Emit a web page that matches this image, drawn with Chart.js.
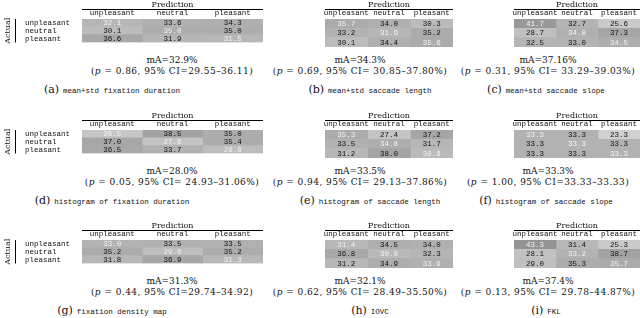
<!DOCTYPE html>
<html>
<head>
<meta charset="utf-8">
<script src="https://cdn.jsdelivr.net/npm/chart.js@4.4.1/dist/chart.umd.min.js"></script>
<style>
  body { margin: 0; background: #fff; }
  #page { position: relative; width: 640px; height: 318px; overflow: hidden; }
  canvas { position: absolute; }
  .ma, .ci { position: absolute; font-family: "DejaVu Serif"; font-size: 9px; color: #111; white-space: nowrap; transform: translate(-50%, -50%); }
  .ci { letter-spacing: 0.45px; }
  .cap { position: absolute; white-space: nowrap; transform: translate(-50%, -50%); color: #111; }
  .cap b { font-family: "DejaVu Serif"; font-weight: normal; font-size: 11px; }
  .cap span { font-family: "Liberation Mono"; font-size: 7.5px; }
</style>
</head>
<body>
<div id="page"></div>
<script>
const classes = ['unpleasant', 'neutral', 'pleasant'];

// confusion matrices, rows = actual, columns = prediction (%)
const fixDurMeanStd = [[32.1, 33.6, 34.3], [30.1, 35.0, 35.0], [36.6, 31.9, 31.5]];
const sacLenMeanStd = [[35.7, 34.0, 30.3], [33.2, 31.6, 35.2], [30.1, 34.4, 35.6]];
const sacSlopeMeanStd = [[41.7, 32.7, 25.6], [28.7, 34.0, 37.3], [32.5, 33.0, 34.5]];
const fixDurHist = [[26.5, 38.5, 35.0], [37.0, 27.6, 35.4], [36.5, 33.7, 29.8]];
const sacLenHist = [[35.3, 27.4, 37.2], [33.5, 34.8, 31.7], [31.2, 38.0, 30.8]];
const sacSlopeHist = [[33.3, 33.3, 23.3], [33.3, 33.3, 33.3], [33.3, 33.3, 33.3]];
const fixDensity = [[33.0, 33.5, 33.5], [35.2, 29.6, 35.2], [31.8, 36.9, 31.3]];
const iovc = [[31.4, 34.5, 34.0], [36.8, 30.9, 32.3], [31.2, 34.9, 33.9]];
const fkl = [[43.3, 31.4, 25.3], [28.1, 33.2, 38.7], [29.0, 35.3, 35.7]];

const matrices = [fixDurMeanStd, sacLenMeanStd, sacSlopeMeanStd, fixDurHist, sacLenHist, sacSlopeHist, fixDensity, iovc, fkl];
const letters = ['a', 'b', 'c', 'd', 'e', 'f', 'g', 'h', 'i'];
const captions = ['mean+std fixation duration', 'mean+std saccade length', 'mean+std saccade slope',
  'histogram of fixation duration', 'histogram of saccade length', 'histogram of saccade slope',
  'fixation density map', 'IOVC', 'FKL'];
const meanAcc = ['32.9', '34.3', '37.16', '28.0', '33.5', '33.3', '31.3', '32.1', '37.4'];
const pValues = ['0.86', '0.69', '0.31', '0.05', '0.94', '1.00', '0.44', '0.62', '0.13'];
const ciLow = ['29.55', '30.85', '33.29', '24.93', '29.13', '33.33', '29.74', '28.49', '29.78'];
const ciHigh = ['36.11', '37.80', '39.03', '31.06', '37.86', '33.33', '34.92', '35.50', '44.87'];
const ciPct = [false, true, true, true, true, false, false, true, true];

// layout
const colLeft = [0, 268, 457];
const colWidth = [263, 185, 183];
const tableCenter = [172, 360, 548];
const capCenter = [112, 370, 546];
const rowTop = [0, 111, 221];

function shade(v) {
  const g = Math.round(Math.max(130, Math.min(225, 178 - 3 * (v - 33.3))));
  return `rgb(${g},${g},${g})`;
}

const tableDecor = {
  id: 'tableDecor',
  afterDatasetsDraw(chart, args, opts) {
    const ctx = chart.ctx;
    ctx.save();
    ctx.font = '7.5px "Liberation Mono"';
    ctx.textAlign = 'center';
    ctx.textBaseline = 'middle';
    chart.data.datasets.forEach((ds, j) => {
      chart.getDatasetMeta(j).data.forEach((bar, i) => {
        const p = bar.getCenterPoint();
        ctx.fillStyle = i === j ? '#f2f2f2' : '#111';
        ctx.fillText(ds.values[i].toFixed(1), p.x, p.y + 0.5);
      });
    });
    const area = chart.chartArea;
    const xs = chart.scales.x;
    ctx.strokeStyle = '#000';
    ctx.lineWidth = 1;
    ctx.beginPath();
    ctx.moveTo(area.left, xs.top + 9.5);
    ctx.lineTo(area.right, xs.top + 9.5);
    ctx.stroke();
    if (opts.rows) {
      ctx.beginPath();
      ctx.moveTo(15.5, area.top);
      ctx.lineTo(15.5, area.bottom);
      ctx.stroke();
      ctx.translate(8, (area.top + area.bottom) / 2);
      ctx.rotate(-Math.PI / 2);
      ctx.fillStyle = '#111';
      ctx.font = '8px "DejaVu Serif"';
      ctx.fillText('Actual', 0, 0);
    }
    ctx.restore();
  }
};

const page = document.getElementById('page');

matrices.forEach((m, k) => {
  const col = k % 3, row = Math.floor(k / 3);
  const showRows = col === 0;
  const cv = document.createElement('canvas');
  cv.width = colWidth[col];
  cv.height = 47;
  cv.style.left = colLeft[col] + 'px';
  cv.style.top = rowTop[row] + 'px';
  page.appendChild(cv);

  const datasets = classes.map((pred, j) => ({
    label: pred,
    data: m.map(() => 1),
    values: m.map(r => r[j]),
    backgroundColor: m.map(r => shade(r[j])),
    borderWidth: 0,
    barPercentage: 1,
    categoryPercentage: 1
  }));

  new Chart(cv, {
    type: 'bar',
    data: { labels: classes, datasets: datasets },
    options: {
      indexAxis: 'y',
      responsive: false,
      animation: false,
      layout: { padding: { left: showRows ? 25 : 0, right: 0, top: 0, bottom: 0 } },
      plugins: {
        legend: { display: false },
        tooltip: { enabled: false },
        tableDecor: { rows: showRows }
      },
      scales: {
        x: {
          stacked: true,
          position: 'top',
          min: 0,
          max: 3,
          afterBuildTicks: s => { s.ticks = classes.map((c, i) => ({ value: i + 0.5 })); },
          afterFit: s => { s.height = 19; },
          ticks: {
            callback: (v, i) => classes[i],
            autoSkip: false, maxRotation: 0, padding: 1,
            color: '#111', font: { family: 'Liberation Mono', size: 7.5 }
          },
          grid: { display: false, drawTicks: false },
          border: { display: false },
          title: { display: true, text: 'Prediction', color: '#111', padding: 0, font: { family: 'DejaVu Serif', size: 8 } }
        },
        y: {
          stacked: true,
          display: showRows,
          afterFit: s => { s.width = 57; },
          ticks: { autoSkip: false, crossAlign: 'far', padding: 0, color: '#111', font: { family: 'Liberation Mono', size: 7.5 } },
          grid: { display: false, drawTicks: false },
          border: { display: false }
        }
      }
    },
    plugins: [tableDecor]
  });

  const ma = document.createElement('div');
  ma.className = 'ma';
  ma.style.left = tableCenter[col] + 'px';
  ma.style.top = (rowTop[row] + 60) + 'px';
  ma.textContent = 'mA=' + meanAcc[k] + '%';
  page.appendChild(ma);

  const ci = document.createElement('div');
  ci.className = 'ci';
  ci.style.left = tableCenter[col] + 'px';
  ci.style.top = (rowTop[row] + 71) + 'px';
  ci.innerHTML = '(<i>p</i> = ' + pValues[k] + ', 95% CI=' + (ciPct[k] ? ' ' : '') + ciLow[k] + '–' + ciHigh[k] + (ciPct[k] ? '%' : '') + ')';
  page.appendChild(ci);

  const cap = document.createElement('div');
  cap.className = 'cap';
  cap.style.left = capCenter[col] + 'px';
  cap.style.top = (rowTop[row] + 88) + 'px';
  cap.innerHTML = '<b>(' + letters[k] + ')</b> <span>' + captions[k] + '</span>';
  page.appendChild(cap);
});
</script>
</body>
</html>
